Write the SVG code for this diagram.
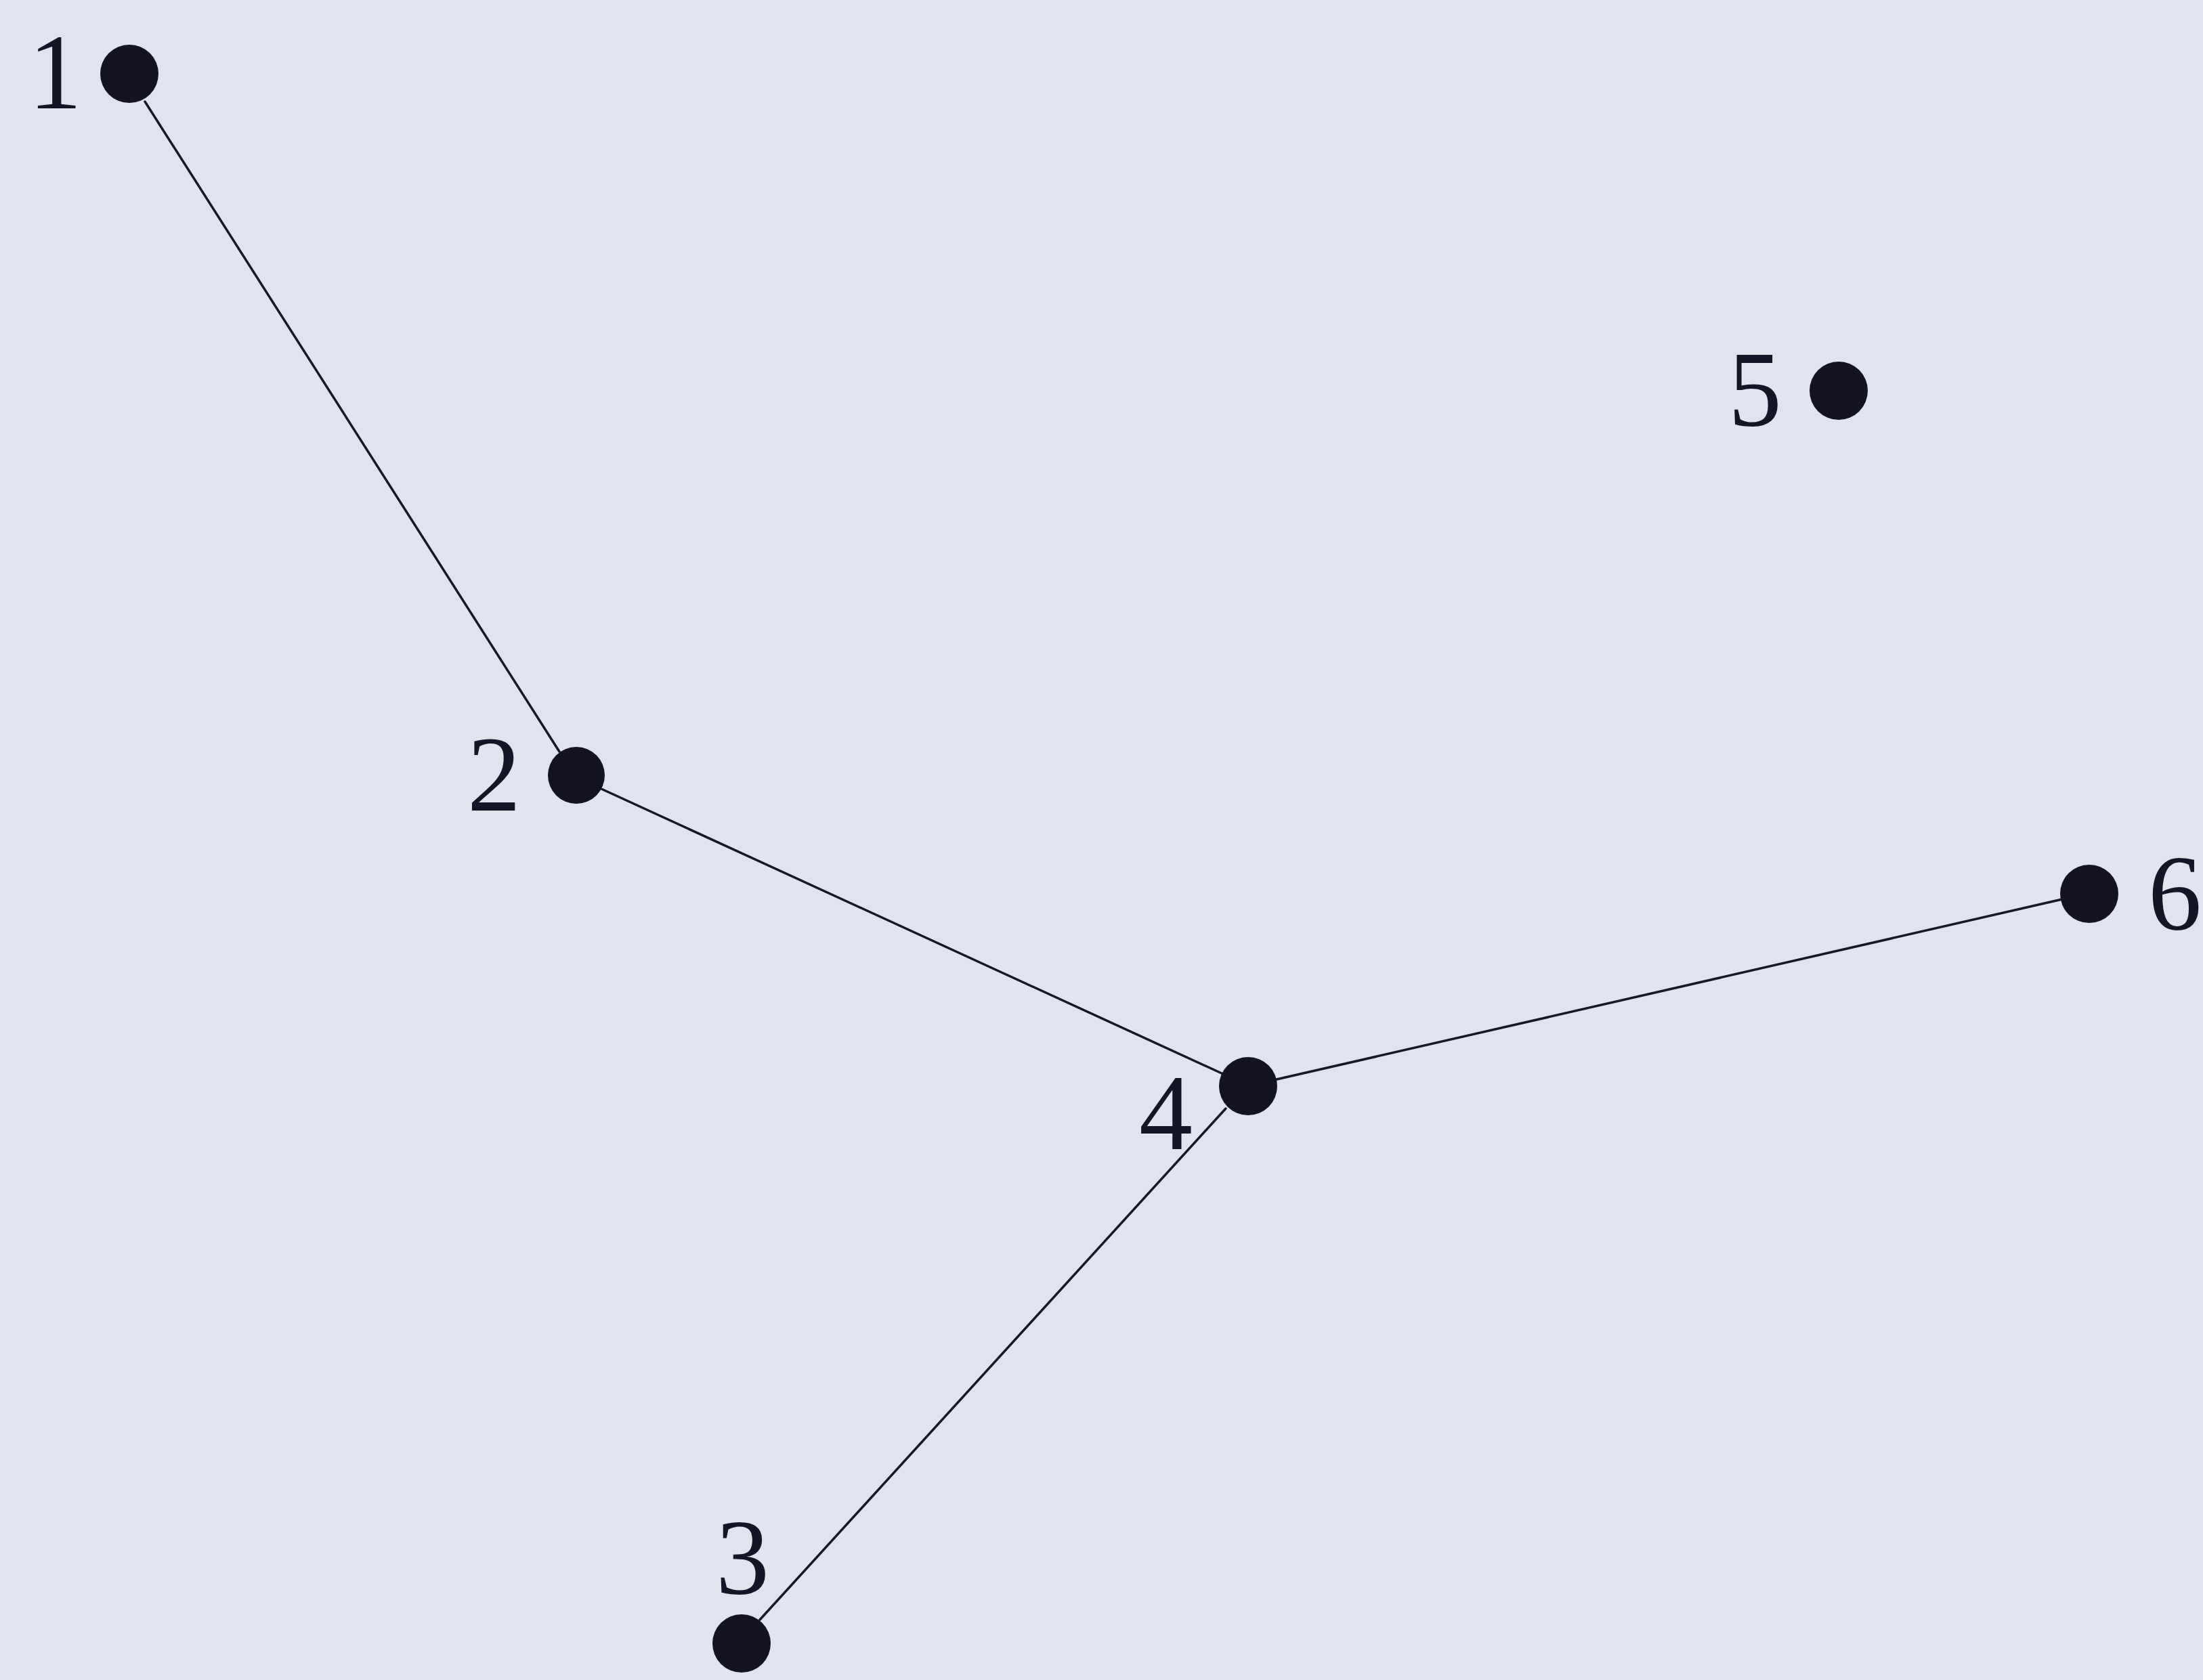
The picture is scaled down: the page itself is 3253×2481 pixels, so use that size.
<svg xmlns="http://www.w3.org/2000/svg" width="3253" height="2481" viewBox="0 0 3253 2481">
<style>
.edge{stroke:#16182a;stroke-width:3.5;fill:none;stroke-linecap:round}
.dot{fill:#141420}
.lbl{font-family:"Liberation Serif","Times New Roman",serif;font-size:158px;fill:#141628}
</style>
<rect width="3253" height="2481" fill="#e1e3ef"/>
<g id="connectors">
<line class="edge" x1="214" y1="150" x2="826" y2="1110"/>
<line class="edge" x1="888" y1="1165" x2="1806" y2="1586"/>
<line class="edge" x1="1885" y1="1594" x2="3045" y2="1328"/>
<line class="edge" x1="1810" y1="1637" x2="1122" y2="2392"/>
</g>
<g id="node1"><circle class="dot" cx="191" cy="109" r="43"/><text class="lbl" x="42" y="160">1</text></g>
<g id="node2"><circle class="dot" cx="851" cy="1145" r="42"/><text class="lbl" x="690" y="1197">2</text></g>
<g id="node3"><circle class="dot" cx="1095" cy="2427" r="43"/><text class="lbl" x="1057" y="2353">3</text></g>
<g id="node4"><circle class="dot" cx="1843" cy="1604" r="43"/><text class="lbl" x="1682" y="1697">4</text></g>
<g id="node5"><circle class="dot" cx="2715" cy="577" r="43"/><text class="lbl" x="2552" y="628">5</text></g>
<g id="node6"><circle class="dot" cx="3085" cy="1320" r="43"/><text class="lbl" x="3172" y="1372">6</text></g>
</svg>
